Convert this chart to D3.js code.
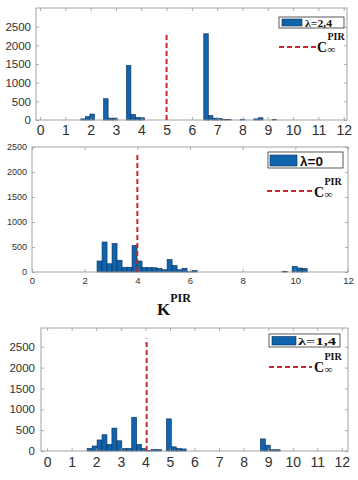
<!DOCTYPE html>
<html><head><meta charset="utf-8">
<script src="https://cdn.jsdelivr.net/npm/d3@7"></script>
<style>body{margin:0;background:#fff;} svg{display:block;background:#fff;}</style>
</head><body>
<svg id="c" width="358" height="480"></svg>
<script>
// ---------- data ----------
const xTicksA = [0,1,2,3,4,5,6,7,8,9,10,11,12];
const xTicksB = [0,2,4,6,8,10,12];
const yTicks = [0,500,1000,1500,2000,2500];

// panel 1 (lambda = 2,4)
const binStart1 = 1.61, binWidth1 = 0.18;
const counts1 = [30,90,160,0,0,570,50,50,0,0,1460,150,70,60,
  0,0,0,0,0,0,0,0,0,0,0,0,0,
  2310,120,50,40,20,10,0,0,10,0,0,30,60,0,0,10];
const cinf1 = 5, cinfTop1 = 2350;
const label1 = "λ=2,4";

// panel 2 (lambda = 0)
const binStart2 = 2.47, binWidth2 = 0.19;
const counts2 = [220,600,165,570,235,95,95,530,220,90,90,85,70,45,250,130,45,75,5,28,
  0,0,0,0,0,0,0,0,0,0,0,0,0,0,0,0,0,
  10,0,110,80,70];
const cinf2 = 4, cinfTop2 = 2400;
const label2 = "λ=0";

// panel 3 (lambda = 1,4)
const binStart3 = 1.63, binWidth3 = 0.2015;
const counts3 = [60,120,265,390,160,550,245,60,60,810,160,60,15,35,35,0,770,100,60,50,
  0,0,0,0,0,0,0,0,0,0,0,0,0,0,0,
  290,140,30,30];
const cinf3 = 4.05, cinfTop3 = 2700;
const label3 = "λ=1,4";

const xTitle = "K", xTitleSup = "PIR";
const cName = "C", cSub = "∞", cSup = "PIR";

// ---------- drawing ----------
const svg = d3.select("#c");
const BAR = "#0f64ad", EDGE = "#0b2f57", RED = "#c42a30", AX = "#9a9a9a", TXT = "#303030";
const SANS = "Liberation Sans, Arial, sans-serif";
const SERIF = "Liberation Serif, Times New Roman, serif";
const fmt = d3.format("d");

function panel(o) {
  const g = svg.append("g");
  const x = d3.scaleLinear().domain(o.xd).range([o.l, o.r]);
  const y = d3.scaleLinear().domain(o.yd).range([o.b, o.t]);

  const bins = o.counts.map((c, i) => ({x0: o.start + i*o.w, x1: o.start + (i+1)*o.w, c}))
                       .filter(d => d.c > 0);
  g.selectAll("rect.bar").data(bins).join("rect").attr("class","bar")
    .attr("x", d => x(d.x0)).attr("width", d => x(d.x1) - x(d.x0))
    .attr("y", d => y(d.c)).attr("height", d => y(0) - y(d.c))
    .attr("fill", BAR).attr("stroke", EDGE).attr("stroke-width", 0.6);

  const axB = g.append("g").attr("transform", `translate(0,${o.b})`)
    .call(d3.axisBottom(x).tickValues(o.xt).tickFormat(fmt).tickSizeInner(-3).tickSizeOuter(0).tickPadding(o.xpad));
  const axT = g.append("g").attr("transform", `translate(0,${o.t})`)
    .call(d3.axisTop(x).tickValues(o.xt).tickSizeInner(-3).tickSizeOuter(0).tickFormat(""));
  const axL = g.append("g").attr("transform", `translate(${o.l},0)`)
    .call(d3.axisLeft(y).tickValues(yTicks).tickFormat(fmt).tickSizeInner(-3).tickSizeOuter(0).tickPadding(o.ypad));
  const axR = g.append("g").attr("transform", `translate(${o.r},0)`)
    .call(d3.axisRight(y).tickValues(yTicks).tickSizeInner(-3).tickSizeOuter(0).tickFormat(""));
  [axB, axT, axL, axR].forEach(a => {
    a.select(".domain").remove();
    a.selectAll(".tick line").attr("stroke", AX).attr("stroke-width", 0.8);
  });
  axB.selectAll("text").attr("font-family", SANS).attr("font-size", o.xfs).attr("fill", TXT);
  axL.selectAll("text").attr("font-family", SANS).attr("font-size", o.yfs).attr("fill", TXT);

  g.append("rect").attr("x", o.l).attr("y", o.t).attr("width", o.r - o.l).attr("height", o.b - o.t)
    .attr("fill", "none").attr("stroke", AX).attr("stroke-width", 0.9);

  g.append("line").attr("x1", x(o.cinf)).attr("x2", x(o.cinf))
    .attr("y1", y(0)).attr("y2", y(o.cinfTop))
    .attr("stroke", RED).attr("stroke-width", 2).attr("stroke-dasharray", "5,3");

  const L = o.leg;
  g.append("rect").attr("x", L.bx).attr("y", L.by).attr("width", L.bw).attr("height", L.bh)
    .attr("fill", "#fff").attr("stroke", "#333").attr("stroke-width", 0.8);
  g.append("rect").attr("x", L.px).attr("y", L.py).attr("width", L.pw).attr("height", L.ph)
    .attr("fill", BAR).attr("stroke", EDGE).attr("stroke-width", 0.6);
  const lt = g.append("text").attr("x", L.tx).attr("y", L.ty).text(o.label)
    .attr("font-family", L.tfont).attr("font-weight", "bold").attr("font-size", L.tfs).attr("fill", "#111");
  if (L.tlen) lt.attr("textLength", L.tlen).attr("lengthAdjust", "spacingAndGlyphs");
  g.append("line").attr("x1", L.dx1).attr("x2", L.dx2).attr("y1", L.dy).attr("y2", L.dy)
    .attr("stroke", RED).attr("stroke-width", 2).attr("stroke-dasharray", "5,3");

  // C_inf^PIR : C with subscript and superscript placed to its right
  g.append("text").attr("x", L.cx).attr("y", L.cy).text(cName)
    .attr("font-family", SERIF).attr("font-weight", "bold").attr("font-size", 14).attr("fill", "#111");
  g.append("text").attr("x", L.cx + 10.5).attr("y", L.cy + 1).text(cSub)
    .attr("font-family", SERIF).attr("font-weight", "bold").attr("font-size", 11).attr("fill", "#111");
  g.append("text").attr("x", L.cx + 10.5).attr("y", L.cy - 12.5).text(cSup)
    .attr("font-family", SERIF).attr("font-weight", "bold").attr("font-size", 10).attr("fill", "#111");
}

panel({xd:[-0.16,12.13], yd:[0,3000], l:36, r:347, t:8, b:120,
  start:binStart1, w:binWidth1, counts:counts1, xt:xTicksA, xpad:5, ypad:5, xfs:14, yfs:11.5,
  cinf:cinf1, cinfTop:cinfTop1, label:label1,
  leg:{bx:279, by:17, bw:65, bh:11, px:282, py:19, pw:20, ph:7, tx:305, ty:26.5, tfont:SERIF, tfs:11, tlen:27,
       dx1:279, dx2:316, dy:47, cx:317, cy:52}});

panel({xd:[0,12], yd:[0,2500], l:32, r:348, t:147, b:272,
  start:binStart2, w:binWidth2, counts:counts2, xt:xTicksB, xpad:5, ypad:5, xfs:9.5, yfs:9,
  cinf:cinf2, cinfTop:cinfTop2, label:label2,
  leg:{bx:268, by:152, bw:75, bh:16, px:270, py:155, pw:27, ph:11, tx:300, ty:165.5, tfont:SANS, tfs:13.5, tlen:0,
       dx1:267, dx2:313, dy:191, cx:314, cy:197}});

panel({xd:[-0.25,12.25], yd:[0,2950], l:41, r:348, t:328, b:451,
  start:binStart3, w:binWidth3, counts:counts3, xt:xTicksA, xpad:6, ypad:6, xfs:14, yfs:11.5,
  cinf:cinf3, cinfTop:cinfTop3, label:label3,
  leg:{bx:269, by:334, bw:71, bh:13, px:272, py:336.5, pw:24, ph:8.5, tx:298, ty:345, tfont:SERIF, tfs:11, tlen:38,
       dx1:269, dx2:312, dy:367, cx:314, cy:372}});

// x title K^PIR
const kt = svg.append("text").attr("x", 157).attr("y", 315)
  .attr("font-family", SERIF).attr("font-weight", "bold").attr("fill", "#111");
kt.append("tspan").attr("font-size", 17).text(xTitle);
kt.append("tspan").attr("font-size", 12).attr("dy", -13).text(xTitleSup);
</script>
</body></html>
